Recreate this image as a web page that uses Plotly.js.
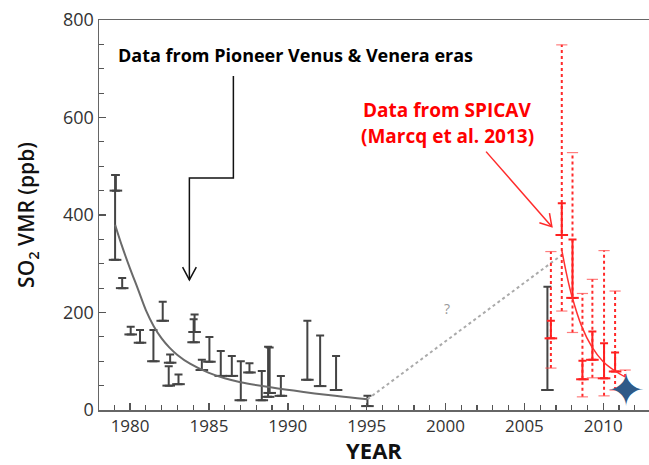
<!DOCTYPE html>
<html>
<head>
<meta charset="utf-8">
<script src="https://cdn.plot.ly/plotly-3.0.1.min.js"></script>
<style>html,body{margin:0;padding:0;background:#fff;}#chart{width:649px;height:465px;}</style>
</head>
<body>
<div id="chart"></div>
<script>
// Pioneer Venus / Venera era measurements (black error bars): year, low, high
const pvYears = [1979.05, 1979.1, 1979.5, 1980.04, 1980.63, 1981.48, 1982.07, 1982.54, 1982.45, 1983.07, 1984.03, 1984.09, 1984.55, 1985.03, 1985.75, 1986.45, 1987.02, 1987.57, 1988.35, 1988.75, 1988.85, 1989.56, 1991.24, 1992.05, 1993.06, 1995.05, 2006.46];
const pvLow   = [308, 450, 250, 155, 138, 100, 183, 97, 50, 53, 139, 160, 82, 99, 70, 70, 20, 77, 20, 27, 35, 29, 62, 49, 41, 8, 41];
const pvHigh  = [482, 482, 271, 171, 164, 164, 222, 114, 90, 73, 186, 196, 103, 150, 121, 111, 100, 96, 80, 130, 128, 70, 183, 153, 111, 29, 253];

// Fitted decay curve through the early data
const fitYears = [1979.05, 1979.5, 1980.0, 1980.5, 1981.0, 1981.5, 1982.0, 1982.5, 1983.0, 1983.8, 1985.0, 1986.0, 1987.0, 1989.0, 1991.0, 1993.0, 1995.05];
const fitVals  = [380, 335, 290, 248, 205, 172, 147, 128, 113, 95, 76, 65, 57, 46, 37, 29, 22];

// Gap connector (dotted grey)
const gapYears = [1995.05, 2007.37];
const gapVals  = [22, 318];

// SPICAV (Marcq et al. 2013): inner (solid) and outer (dotted) error ranges
const spYears    = [2006.68, 2007.37, 2008.05, 2008.68, 2009.31, 2010.05, 2010.75];
const spInLow    = [147, 359, 230, 63, 103, 65, 79];
const spInHigh   = [183, 424, 350, 101, 161, 137, 118];
const spOutYears = [2006.68, 2007.37, 2008.05, 2008.68, 2009.31, 2010.05, 2010.75, 2011.39];
const spOutLow   = [86, 203, 159, 27, 66, 29, 41, 43];
const spOutHigh  = [325, 749, 528, 239, 268, 327, 244, 82];

// SPICAV fitted curve (red)
const spFitYears = [2007.37, 2007.7, 2008.0, 2008.64, 2009.27, 2010.0, 2010.75, 2011.39];
const spFitVals  = [328, 275, 235, 171, 130, 99, 80, 68];

// Recent point (blue star)
const starYear = [2011.45];
const starVal  = [31];

const traces = [];

// black error bars
traces.push({
  type: 'scatter', mode: 'markers', x: pvYears, y: pvLow,
  marker: {size: 1, color: 'rgba(0,0,0,0)'},
  error_y: {type: 'data', symmetric: false, array: pvHigh.map((h, i) => h - pvLow[i]), arrayminus: pvLow.map(() => 0),
            color: '#444444', thickness: 2, width: 4},
  hoverinfo: 'skip', showlegend: false
});
traces.push({
  type: 'scatter', mode: 'markers', x: pvYears, y: pvLow,
  marker: {symbol: 'line-ew', size: 9, line: {color: '#444444', width: 2}},
  hoverinfo: 'skip', showlegend: false
});

// fit curve
traces.push({type: 'scatter', mode: 'lines', x: fitYears, y: fitVals,
  line: {color: '#6a6a6a', width: 2, shape: 'spline', smoothing: 1}, hoverinfo: 'skip', showlegend: false});

// gap connector
traces.push({type: 'scatter', mode: 'lines', x: gapYears, y: gapVals,
  line: {color: '#aaaaaa', width: 2, dash: 'dot'}, hoverinfo: 'skip', showlegend: false});

// outer dotted red bars
const dx = [], dy = [];
spOutYears.forEach((yr, i) => { dx.push(yr, yr, null); dy.push(spOutLow[i], spOutHigh[i], null); });
traces.push({type: 'scatter', mode: 'lines', x: dx, y: dy,
  line: {color: '#ff2a2a', width: 2, dash: 'dot'}, hoverinfo: 'skip', showlegend: false});
traces.push({type: 'scatter', mode: 'markers', x: spOutYears.concat(spOutYears), y: spOutLow.concat(spOutHigh),
  marker: {symbol: 'line-ew', size: 8, line: {color: 'rgba(255,70,70,0.7)', width: 1.2}}, hoverinfo: 'skip', showlegend: false});

// inner solid red bars
traces.push({
  type: 'scatter', mode: 'markers', x: spYears, y: spInLow,
  marker: {size: 1, color: 'rgba(0,0,0,0)'},
  error_y: {type: 'data', symmetric: false, array: spInHigh.map((h, i) => h - spInLow[i]), arrayminus: spInLow.map(() => 0),
            color: '#ff2020', thickness: 2, width: 4},
  hoverinfo: 'skip', showlegend: false
});
traces.push({type: 'scatter', mode: 'markers', x: spYears, y: spInLow,
  marker: {symbol: 'line-ew', size: 9, line: {color: '#ff2020', width: 2}}, hoverinfo: 'skip', showlegend: false});

// red fit
traces.push({type: 'scatter', mode: 'lines', x: spFitYears, y: spFitVals,
  line: {color: '#ff3030', width: 1.5, shape: 'spline', smoothing: 1}, hoverinfo: 'skip', showlegend: false});

// blue four-pointed star drawn as a glyph at the data point
traces.push({type: 'scatter', mode: 'text', x: starYear, y: starVal, text: ['\u2726'],
  textposition: 'middle center', textfont: {family: 'DejaVu Sans', size: 46, color: '#2f5a88'},
  hoverinfo: 'skip', showlegend: false, cliponaxis: false});

const layout = {
  width: 649, height: 465,
  margin: {l: 99, r: 0, t: 20, b: 55},
  paper_bgcolor: '#ffffff', plot_bgcolor: '#ffffff',
  font: {family: 'Open Sans, sans-serif', color: '#333'},
  showlegend: false,
  xaxis: {
    range: [1978.03, 2012.9], tickmode: 'linear', tick0: 1980, dtick: 5,
    ticks: 'inside', ticklen: 7, tickwidth: 1.5, tickcolor: '#555',
    minor: {dtick: 1, ticks: 'inside', ticklen: 5, tickwidth: 1.2, tickcolor: '#555', showgrid: false},
    showgrid: false, zeroline: false, showline: true, linecolor: '#666', linewidth: 1.5, mirror: true,
    tickfont: {size: 17, color: '#333'},
    title: {text: 'YEAR', font: {size: 22, color: '#111', weight: 'bold'}, standoff: 4}
  },
  yaxis: {
    range: [0, 800], tickmode: 'linear', tick0: 0, dtick: 200,
    ticks: 'inside', ticklen: 7, tickwidth: 1.5, tickcolor: '#555',
    minor: {dtick: 50, ticks: 'inside', ticklen: 5, tickwidth: 1.2, tickcolor: '#555', showgrid: false},
    showgrid: false, zeroline: false, showline: true, linecolor: '#666', linewidth: 1.5,
    tickfont: {size: 18, color: '#333'},
    title: {text: 'SO<sub>2</sub> VMR (ppb)', font: {size: 21, color: '#111', weight: 600}, standoff: 22}
  },
  annotations: [
    {x: 1990.46, y: 728, xref: 'x', yref: 'y', text: 'Data from Pioneer Venus &amp; Venera eras', showarrow: false,
     font: {size: 18, color: '#000', weight: 'bold'}},
    {x: 2000.1, y: 615, xref: 'x', yref: 'y', text: 'Data from SPICAV', showarrow: false,
     font: {size: 19, color: '#ff0000', weight: 'bold'}},
    {x: 2000.1, y: 562, xref: 'x', yref: 'y', text: '(Marcq et al. 2013)', showarrow: false,
     font: {size: 19, color: '#ff0000', weight: 'bold'}},
    {x: 2000.1, y: 209, xref: 'x', yref: 'y', text: '?', showarrow: false,
     font: {size: 14, color: '#999'}}
  ],
  shapes: [
    {type: 'path', xref: 'x', yref: 'y', path: 'M 1986.55 685 L 1986.55 476 L 1983.76 476 L 1983.76 267',
     line: {color: '#111', width: 1.5}},
    {type: 'path', xref: 'x', yref: 'y', path: 'M 1983.33 293 L 1983.76 267 L 1984.2 293',
     line: {color: '#111', width: 1.5}},
    {type: 'line', xref: 'x', yref: 'y', x0: 2002.57, y0: 530, x1: 2006.74, y1: 376,
     line: {color: '#ff2a2a', width: 1.5}},
    {type: 'path', xref: 'x', yref: 'y', path: 'M 2005.95 384 L 2006.74 376 L 2006.59 404',
     line: {color: '#ff2a2a', width: 1.5}}
  ]
};

Plotly.newPlot('chart', traces, layout, {staticPlot: true, displayModeBar: false});
</script>
</body>
</html>
